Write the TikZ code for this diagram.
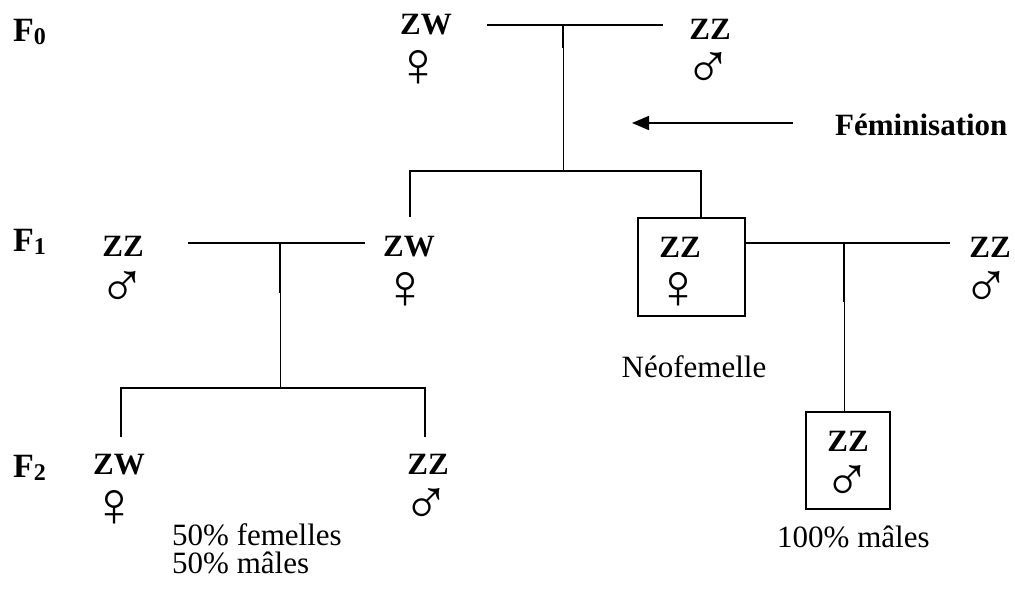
\documentclass[tikz,border=0pt]{standalone}
\usepackage{fontspec}
\setmainfont{Liberation Serif}
\usetikzlibrary{arrows.meta}
\begin{document}
\begin{tikzpicture}[x=1pt,y=1pt,
  gt/.style={font=\fontsize{31}{31}\selectfont\bfseries, inner sep=0pt, anchor=base},
  sx/.style={font=\fontsize{64}{64}\selectfont, inner sep=0pt, yshift=-3pt},
  lbl/.style={font=\fontsize{31}{36}\selectfont, inner sep=0pt},
  gen/.style={font=\fontsize{34}{34}\selectfont\bfseries, inner sep=0pt, anchor=base west},
  heavy/.style={line width=1.8pt},
  light/.style={line width=0.9pt},
  frame/.style={draw, line width=1.4pt, inner sep=0pt},
]
\useasboundingbox (0,0) rectangle (1015,592);

% generation labels
\node[gen] (F0) at (13,550) {F\raisebox{-3pt}{\fontsize{24}{24}\selectfont 0}};
\node[gen] (F1) at (13,340) {F\raisebox{-3pt}{\fontsize{24}{24}\selectfont 1}};
\node[gen] (F2) at (13,114) {F\raisebox{-3pt}{\fontsize{24}{24}\selectfont 2}};

% boxes
\node[frame, minimum width=107pt, minimum height=98pt] (boxneo) at (691.5,325) {};
\node[frame, minimum width=84pt, minimum height=97pt] (boxn) at (848,131.5) {};

% genotypes
\node[gt] (p0f) at (426,557) {ZW};
\node[gt] (p0m) at (710,552) {ZZ};
\node[gt] (f1m) at (123,335) {ZZ};
\node[gt] (f1f) at (409,335) {ZW};
\node[gt] (neo) at (680,334) {ZZ};
\node[gt] (f1mb) at (990,334) {ZZ};
\node[gt] (f2f) at (119,117) {ZW};
\node[gt] (f2m) at (428,117) {ZZ};
\node[gt] (f2n) at (848,140) {ZZ};

% sex symbols
\node[sx] (sp0f) at (418,527) {♀};
\node[sx] (sp0m) at (708,525) {♂};
\node[sx] (sf1m) at (122,306) {♂};
\node[sx] (sf1f) at (405,304.5) {♀};
\node[sx] (sneo) at (678,304.5) {♀};
\node[sx] (sf1mb) at (986,306) {♂};
\node[sx] (sf2f) at (114,87) {♀};
\node[sx] (sf2m) at (426,88.5) {♂};
\node[sx] (sf2n) at (847,112) {♂};

% text labels
\node[lbl, anchor=base] (neolab) at (694,214) {Néofemelle};
\node[lbl, anchor=base west] (cent) at (777,45) {100\% mâles};
\node[lbl, anchor=base west] (half1) at (172,47) {50\% femelles};
\node[lbl, anchor=base west] (half2) at (172,19) {50\% mâles};
\node[lbl, font=\fontsize{31}{31}\selectfont\bfseries, anchor=base west] (fem) at (835,456) {Féminisation};

% coordinates of the connectors
\coordinate (c0L) at (487,567);
\coordinate (c0R) at (663,567);
\coordinate (c0M) at (563,567);
\coordinate (c0S) at (563,544);
\coordinate (c0D) at (563,421);
\coordinate (b0L) at (410,421);
\coordinate (b0R) at (701,421);
\coordinate (b0Ld) at (410,375);

\coordinate (c1L) at (188,349);
\coordinate (c1R) at (365,349);
\coordinate (c1M) at (280,349);
\coordinate (c1S) at (280,299);
\coordinate (c1D) at (280,204);
\coordinate (b1L) at (121,204);
\coordinate (b1R) at (425,204);
\coordinate (b1Ld) at (121,155);
\coordinate (b1Rd) at (425,155);

\coordinate (c2R) at (950,349);
\coordinate (c2M) at (844,349);
\coordinate (c2S) at (844,290);

\coordinate (a0) at (793,469);
\coordinate (a1) at (632,469);

% F0 cross
\draw[heavy] (c0L) -- (c0R);
\draw[heavy] (c0M) -- (c0S);
\draw[light] (c0S) -- (c0D);
\draw[heavy] (b0Ld) -- (b0L) -- (b0R) -- (b0R |- boxneo.north);

% F1 left cross
\draw[heavy] (c1L) -- (c1R);
\draw[heavy] (c1M) -- (c1S);
\draw[light] (c1S) -- (c1D);
\draw[heavy] (b1Ld) -- (b1L) -- (b1R) -- (b1Rd);

% F1 right cross
\draw[heavy] (boxneo.east |- c2R) -- (c2R);
\draw[heavy] (c2M) -- (c2S);
\draw[light] (c2S) -- (c2M |- boxn.north);

% feminisation arrow
\draw[line width=1.6pt, -{Triangle[length=17pt,width=14pt]}] (a0) -- (a1);
\end{tikzpicture}
\end{document}
